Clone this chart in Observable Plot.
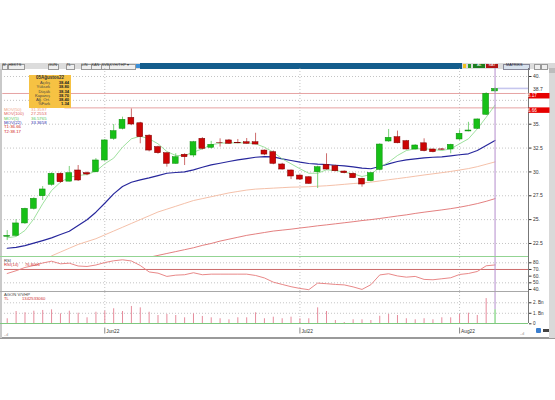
<!DOCTYPE html>
<html><head><meta charset="utf-8">
<script src="https://cdn.jsdelivr.net/npm/d3@7"></script>
<script src="https://cdn.jsdelivr.net/npm/@observablehq/plot@0.6"></script>
<style>
body{margin:0;background:#fff;font-family:"Liberation Sans",Arial,sans-serif;}
#wrap{position:relative;width:555px;height:400px;overflow:hidden;background:#fff;}
.a{position:absolute;white-space:nowrap;line-height:1;}
.t{font-size:5px;}
</style></head><body><div id="wrap"></div>
<script>
// ---------- data ----------
const dates = ["2022-05-16","2022-05-17","2022-05-18","2022-05-20","2022-05-23","2022-05-24","2022-05-25","2022-05-26","2022-05-27","2022-05-30","2022-05-31",
"2022-06-01","2022-06-02","2022-06-03","2022-06-06","2022-06-07","2022-06-08","2022-06-09","2022-06-10","2022-06-13","2022-06-14","2022-06-15","2022-06-16","2022-06-17","2022-06-20","2022-06-21","2022-06-22","2022-06-23","2022-06-24","2022-06-27","2022-06-28","2022-06-29","2022-06-30",
"2022-07-01","2022-07-04","2022-07-05","2022-07-06","2022-07-07","2022-07-08","2022-07-13","2022-07-14","2022-07-18","2022-07-19","2022-07-20","2022-07-21","2022-07-22","2022-07-25","2022-07-26","2022-07-27","2022-07-28","2022-07-29",
"2022-08-01","2022-08-02","2022-08-03","2022-08-04","2022-08-05"];
const open  = [23.2,23.3,24.6,26.13,27.45,28.65,29.8,28.98,30.15,29.87,29.97,31.2,33.47,34.52,35.67,35.1,33.8,32.6,31.96,30.85,31.8,31.72,33.47,32.53,33.05,33.3,33.05,33.11,33.11,32.24,32.07,30.78,30.15,29.62,29.44,29.97,30.74,30.6,30.04,29.8,29.28,29.03,30.22,33.19,33.64,33.22,32.35,33.0,32.35,32.36,32.35,33.4,34.24,34.52,35.99,38.44];
const high  = [23.85,25.0,26.2,27.3,28.47,29.9,29.9,30.57,30.67,30.0,31.4,33.4,34.97,35.74,36.6,35.2,33.9,32.7,32.0,31.9,31.9,33.2,33.6,33.2,33.47,33.4,33.4,33.5,34.05,32.3,32.2,30.9,30.2,29.7,29.5,30.6,31.9,30.7,30.1,29.9,29.35,29.95,32.95,34.45,34.28,33.3,32.85,33.47,32.4,32.45,32.9,34.4,35.2,35.55,38.3,38.8];
const low   = [22.8,23.2,24.5,26.0,27.0,28.5,28.8,28.95,29.0,29.6,29.9,31.1,33.3,34.4,34.85,32.95,32.1,31.85,30.5,30.8,30.67,31.5,32.3,32.4,32.6,32.9,32.95,32.9,32.85,31.7,30.75,30.2,29.2,29.1,28.7,28.26,30.2,30.0,29.8,29.3,28.4,28.95,30.1,33.1,32.95,32.3,32.3,32.1,32.0,32.25,31.9,33.3,34.2,34.45,35.9,38.3];
const close = [23.3,24.6,26.13,27.18,28.16,29.8,28.92,29.87,29.1,29.73,31.2,33.3,34.27,35.46,34.97,33.64,32.24,31.96,30.85,31.54,31.54,33.11,32.42,32.84,33.03,32.95,33.0,32.95,32.87,31.82,30.85,30.25,29.52,29.2,28.75,30.49,30.25,30.07,29.87,29.34,28.68,29.87,32.87,33.57,33.0,32.35,32.77,32.18,32.07,32.33,32.84,34.0,34.34,35.5,38.19,38.70];
const ma5   = [23.09,23.23,23.86,25.08,26.66,28.05,28.92,29.44,29.62,29.73,30.07,30.85,31.44,32.59,33.47,33.74,33.47,32.95,32.14,31.72,31.72,32.07,32.42,32.84,33.01,33.05,33.05,33.05,32.95,32.59,32.07,31.37,30.85,30.33,29.86,29.86,30.22,30.15,29.97,29.8,29.52,29.73,30.49,31.02,31.72,32.24,32.42,32.42,32.35,32.24,32.42,32.95,33.47,34.52,35.73,37.0];
const ma22  = [22.0,22.1,22.28,22.53,22.8,23.09,23.44,23.78,24.38,24.98,25.78,26.72,27.7,28.47,28.92,29.17,29.38,29.62,29.86,29.94,30.01,30.22,30.49,30.74,30.91,31.09,31.27,31.4,31.54,31.61,31.58,31.37,31.2,31.02,30.88,30.81,30.78,30.7,30.64,30.53,30.39,30.33,30.57,30.85,31.09,31.27,31.37,31.48,31.54,31.58,31.69,31.8,31.9,32.24,32.77,33.3];
const ma50  = [null,null,null,null,null,21.2,21.6,22.0,22.4,22.7,23.0,23.4,23.8,24.2,24.6,25.0,25.4,25.8,26.1,26.4,26.7,27.0,27.2,27.4,27.6,27.8,27.95,28.1,28.2,28.25,28.3,28.35,28.4,28.42,28.45,28.5,28.55,28.62,28.7,28.78,28.85,28.93,29.05,29.18,29.3,29.42,29.55,29.68,29.8,29.92,30.05,30.2,30.35,30.55,30.8,31.05];
const ma100 = [null,null,null,null,null,null,null,null,null,null,null,null,null,null,null,null,21.05,21.25,21.45,21.65,21.85,22.05,22.3,22.5,22.75,22.95,23.15,23.35,23.5,23.65,23.8,23.9,24.0,24.12,24.23,24.35,24.45,24.56,24.67,24.78,24.9,25.0,25.12,25.25,25.38,25.5,25.65,25.78,25.9,26.02,26.15,26.3,26.48,26.68,26.92,27.2];
const rsi   = [64.0,68.1,73.0,76.0,79.7,82.4,78.5,79.4,75.2,74.5,76.7,80.4,83.0,84.5,82.7,76.0,66.3,64.5,59.6,61.5,62.1,65.1,62.1,63.0,63.0,63.0,63.0,63.0,61.0,57.3,51.0,47.6,44.2,41.6,39.7,49.6,48.7,47.6,46.9,43.9,40.1,47.2,61.8,63.6,60.3,58.5,59.6,55.1,54.6,56.1,57.6,62.5,64.0,67.0,75.5,76.8];
const volume= [0.48,1.17,1.05,1.2,1.27,1.33,0.95,1.2,1.01,0.57,1.1,1.2,1.43,1.17,1.65,1.52,1.1,0.79,0.89,0.79,0.57,0.95,0.7,0.57,0.48,0.38,0.57,0.57,1.05,0.48,0.63,0.48,0.63,0.48,0.48,1.52,1.17,0.31,0.12,0.38,0.38,0.31,0.72,0.89,0.79,0.48,0.38,0.48,0.38,0.57,0.57,0.89,1.01,0.79,2.4,1.34].map(v=>v*1e9);
const priceTicks = [40,35,32.5,30,27.5,25,22.5];
const priceGrid  = [40,37.5,35,32.5,30,27.5,25,22.5];
const targetVals = [38.17,36.66];
const targetNames = ["T2","T1"];
const targetStart = ["2022-05-16","2022-05-26"];
const rsiTicks = [80,70,60,50,40];
const rsiGrid = [80,50];
const rsiLevel = [70];
const volTicks = [0,1e9,2e9];
const monthStarts = ["2022-06-01","2022-07-01","2022-08-01"];
const monthLabels = ["Jun22","Jul22","Aug22"];
const infoTitle = "05Ağustos22";
const infoLabels = ["Açılış","Yüksek","Düşük","Kapanış","Ağ. Ort.","%Fark"];
const infoValues = ["38.44","38.80","38.34","38.70","38.40","1.34"];
const maNames = ["MOV(50)","MOV(100)","MOV(5)","MOV(22)"];
const maValues = ["31.3597","27.2553","36.5765","33.3658"];
const volValue = "1342533060";
const rsiValue = "76.8001";

// ---------- layout ----------
const wrap = document.getElementById("wrap");
function box(l,t,w,h,css){const d=document.createElement("div");d.className="a";Object.assign(d.style,{left:l+"px",top:t+"px",width:w+"px",height:h+"px"},css||{});wrap.appendChild(d);return d;}
function txt(l,t,s,css){const d=document.createElement("div");d.className="a t";d.textContent=s;Object.assign(d.style,{left:l+"px",top:t+"px"},css||{});wrap.appendChild(d);return d;}

const rows = dates.map((d,i)=>({date:d,open:open[i],high:high[i],low:low[i],close:close[i],ma5:ma5[i],ma22:ma22[i],ma50:ma50[i],ma100:ma100[i],rsi:rsi[i],vol:volume[i]}));
const up = rows.filter(d=>d.close>=d.open), dn = rows.filter(d=>d.close<d.open);
const last = rows[rows.length-1];
const STEP = 8.87, X0 = 2.27;
const X = {type:"band", domain:dates, range:[X0, X0+dates.length*STEP], padding:0, axis:null};
const common = {width:555, marginLeft:4, marginRight:27, marginTop:0, marginBottom:0,
  style:{background:"transparent",fontFamily:"Liberation Sans, Arial, sans-serif",fontSize:"5px",overflow:"visible"}};
const dotted = {stroke:"#aaa", strokeOpacity:1, strokeDasharray:"1,2", strokeWidth:0.7};

// window frame
box(0,63,555,275,{background:"#fff"});
box(0,337,555,1.5,{background:"#9a9a9a"});
box(0,63,2,275,{background:"#c9c9c9"});
box(549,63,6,275,{background:"#d9d9d9"});
box(549,68,6,5,{background:"#bcbcbc"});

// toolbar
box(0,63,140,5.5,{background:"#dcdcdc"});
box(140,63,323,5.5,{background:"#145d8c"});
box(462,63,87,5.5,{background:"#dcdcdc"});
const tb=[[2,"M"],[8,"HEKTS"],[48,"GUN"],[66,"TL"],[81,"LIN"],[91,"KAN"],[101,"SVB"],[109,"KYH/THP ▾"]];
tb.forEach(([x,s])=>{box(x-0.5,63.5,s.length*2.6+2,4.5,{background:"#efefef",border:"0.3px solid #999"});txt(x+0.5,64,s,{fontSize:"3.8px",color:"#333"});});
box(136,63.5,4,4.5,{background:"#3a8fd8"});
box(463,63.5,3,4.5,{background:"#f0c020"});
box(467.5,63.5,3.5,4.5,{background:"#2a9a2a"});
box(473,63.5,12,4.5,{background:"#1e7d1e"});txt(477,64,"AL",{fontSize:"3.8px",color:"#fff"});
box(486,63.5,12,4.5,{background:"#b01515"});txt(488.5,64,"SAT",{fontSize:"3.8px",color:"#fff"});
box(503,63.5,25,4.5,{background:"#d8e2ee",border:"0.3px solid #889"});txt(506,64,"MATRIKS",{fontSize:"3.8px",color:"#223"});
box(534,63.5,5,4.5,{background:"#eee",border:"0.3px solid #999"});
box(541,63.5,5,4.5,{background:"#eee",border:"0.3px solid #999"});

// right axis line
box(528,68,0.8,255.3,{background:"#777"});

// ---------- price panel ----------
const PT=68, PH=189;
const price = Plot.plot({...common, height:PH,
  x:X, y:{domain:[21.03,40.84], axis:null},
  marks:[
    Plot.gridY(priceGrid, dotted),
    Plot.gridX(monthStarts, dotted),
    Plot.lineY(rows.filter(d=>d.ma100!=null), {x:"date", y:"ma100", stroke:"#e07272", strokeWidth:0.9, clip:true}),
    Plot.lineY(rows.filter(d=>d.ma50!=null), {x:"date", y:"ma50", stroke:"#f3b99f", strokeWidth:0.9, clip:true}),
    Plot.lineY(rows, {x:"date", y:"ma22", stroke:"#27279c", strokeWidth:1.2, clip:true}),
    Plot.lineY(rows, {x:"date", y:"ma5", stroke:"#86d986", strokeWidth:0.8, clip:true}),
    Plot.ruleX(up, {x:"date", y1:"low", y2:"high", stroke:"#5cc85c", strokeWidth:0.8}),
    Plot.ruleX(dn, {x:"date", y1:"low", y2:"high", stroke:"#c04848", strokeWidth:0.8}),
    Plot.barY(up, {x:"date", y1:"open", y2:"close", fill:"#17c017", stroke:"#0b8a0b", strokeWidth:0.5, insetLeft:1.5, insetRight:1.5}),
    Plot.barY(dn, {x:"date", y1:"open", y2:"close", fill:"#cc0505", stroke:"#7d0000", strokeWidth:0.5, insetLeft:1.5, insetRight:1.5}),
    Plot.ruleX([last], {x:"date", stroke:"#b48ccc", strokeWidth:1}),
    Plot.axisY(priceTicks, {anchor:"right", label:null, tickSize:2.5, tickPadding:2, tickFormat:d=>Number.isInteger(d)?d+".":String(d), fontSize:5, color:"#333"}),
    Plot.text([last], {y:"close", frameAnchor:"right", dx:4.5, textAnchor:"start", text:d=>String(d.close.toFixed(1)), fontSize:5, fill:"#333"})
  ]});
price.style.position="absolute"; price.style.left="0px"; price.style.top=PT+"px";
wrap.appendChild(price);
{
  const sy = price.scale("y"), sx = price.scale("x");
  const svg = d3.select(price);
  const py = sy.apply(last.close);
  const cx = sx.apply(last.date) + sx.bandwidth/2;
  svg.insert("line",":first-child").attr("x1",cx+3).attr("x2",528).attr("y1",py).attr("y2",py).attr("stroke","#c6c6ee").attr("stroke-width",1.6);
  targetVals.forEach((v,i)=>{
    const ty = sy.apply(v);
    svg.insert("line","g:nth-of-type(3)").attr("x1",sx.apply(targetStart[i])).attr("x2",528).attr("y1",ty).attr("y2",ty).attr("stroke","#e6a3a3").attr("stroke-width",1);
    svg.append("rect").attr("x",528.5).attr("y",ty-0.5).attr("width",21).attr("height",5.5).attr("fill","#e60000");
    svg.append("text").attr("x",531).attr("y",ty+4).attr("font-size",4.6).attr("fill","#fff").text(v.toFixed(2));
  });
}
box(0,256.3,528,0.9,{background:"#93d493"});

// info box
box(29,74.5,42,33,{background:"#f6c243"});
txt(29,75.8,infoTitle,{width:"42px",textAlign:"center",fontWeight:"bold",fontSize:"4.5px",color:"#333"});
infoLabels.forEach((s,i)=>{
  txt(30,81.2+i*4.2,s,{width:"20px",textAlign:"right",fontSize:"4.1px",color:"#444"});
  txt(50,81.2+i*4.2,infoValues[i],{width:"19px",textAlign:"right",fontSize:"4.1px",color:"#222",fontWeight:"bold"});
});
// MA legend
const maColors = ["#ef9f86","#e05a5a","#59c659","#3030b0"];
const LG0 = 107.8, LGS = 4.35;
maNames.forEach((s,i)=>{
  txt(4,LG0+i*LGS,s,{fontSize:"4.3px",color:maColors[i]});
  txt(31,LG0+i*LGS,maValues[i],{fontSize:"4.3px",color:maColors[i]});
});
targetNames.slice().reverse().forEach((s,i)=>{
  const v = targetVals.slice().reverse()[i];
  txt(4,LG0+(4+i)*LGS,s+":"+v.toFixed(2),{fontSize:"4.3px",color:"#d02020"});
});

// ---------- RSI panel ----------
const RT=257, RH=34;
const rsiPlot = Plot.plot({...common, height:RH,
  x:X, y:{domain:[37.0,87.94], axis:null},
  marks:[
    Plot.gridY(rsiGrid, dotted),
    Plot.gridX(monthStarts, dotted),
    Plot.ruleY(rsiLevel, {stroke:"#cc6b6b", strokeWidth:1}),
    Plot.lineY(rows, {x:"date", y:"rsi", stroke:"#e57b7b", strokeWidth:0.9}),
    Plot.ruleX([last], {x:"date", stroke:"#b48ccc", strokeWidth:1}),
    Plot.axisY(rsiTicks, {anchor:"right", label:null, tickSize:2.5, tickPadding:2, tickFormat:d=>d+".", fontSize:4.8, color:"#333"})
  ]});
rsiPlot.style.position="absolute"; rsiPlot.style.left="0px"; rsiPlot.style.top=RT+"px";
wrap.appendChild(rsiPlot);
txt(4,258.5,"RSI",{fontSize:"4.2px",color:"#444"});
txt(4,262.5,"RSI(14)",{fontSize:"4.2px",color:"#d03030"});
txt(25,262.5,rsiValue,{fontSize:"4.2px",color:"#d03030"});
box(0,291,528,0.9,{background:"#a8a8a8"});

// ---------- volume panel ----------
const VT=292, VH=31.3;
const volPlot = Plot.plot({...common, height:VH,
  x:X, y:{domain:[0,2.98e9], axis:null},
  marks:[
    Plot.gridY([1e9,2e9], dotted),
    Plot.gridX(monthStarts, dotted),
    Plot.ruleX(rows.slice(0,-1), {x:"date", y1:0, y2:"vol", stroke:"#e68c9c", strokeWidth:1}),
    Plot.ruleX([last], {x:"date", y1:0, y2:"vol", stroke:"#5cc85c", strokeWidth:1}),
    Plot.ruleX([last], {x:"date", y1:"vol", y2:2.98e9, stroke:"#b48ccc", strokeWidth:1}),
    Plot.axisY(volTicks, {anchor:"right", label:null, tickSize:2.5, tickPadding:2, tickFormat:d=>d===0?"0":(d/1e9)+". Bn", fontSize:4.6, color:"#333"})
  ]});
volPlot.style.position="absolute"; volPlot.style.left="0px"; volPlot.style.top=VT+"px";
wrap.appendChild(volPlot);
box(0,323,528,0.9,{background:"#7fc87f"});
txt(4,293,"AGON V/VHP",{fontSize:"4.2px",color:"#444"});
txt(4,297,"TL",{fontSize:"4.2px",color:"#d03030"});
txt(22,297,volValue,{fontSize:"4.2px",color:"#d03030"});

// ---------- x axis strip ----------
const xaxis = Plot.plot({...common, height:13,
  x:X, y:{axis:null},
  marks:[
    Plot.tickX(monthStarts, {x:d=>d, stroke:"#555", strokeWidth:0.7, insetTop:3.5, insetBottom:3.5}),
    Plot.text(monthStarts, {x:d=>d, text:(d,i)=>monthLabels[i], textAnchor:"start", dx:1.5, frameAnchor:"middle", fontSize:4.8, fill:"#333"})
  ]});
xaxis.style.position="absolute"; xaxis.style.left="0px"; xaxis.style.top="324px";
wrap.appendChild(xaxis);
txt(4,332.5,"..ıl",{fontSize:"4px",color:"#777"});
txt(520,332,"..ıl",{fontSize:"4px",color:"#777"});
box(536,328,5,5,{background:"#3b7fd0",borderRadius:"1px"});
box(542.5,329,3,3,{background:"#444"});
box(546,329,3,3,{background:"#444"});
</script></body></html>
